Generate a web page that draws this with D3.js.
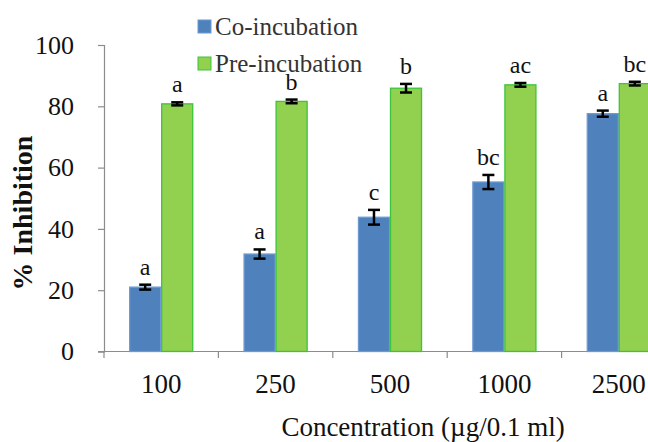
<!DOCTYPE html>
<html>
<head>
<meta charset="utf-8">
<script src="https://cdn.jsdelivr.net/npm/d3@7"></script>
<style>
html,body{margin:0;padding:0;background:#fff;overflow:hidden;}
svg{display:block;}
svg text{font-family:"Liberation Serif","Times New Roman","DejaVu Serif",serif !important;}
</style>
</head>
<body>
<svg id="chart" width="648" height="442"></svg>
<script>
const categories = ["100", "250", "500", "1000", "2500"];
const seriesNames = ["Co-incubation", "Pre-incubation"];
const coValues = [21.0, 31.8, 43.8, 55.3, 77.6];
const coErrors = [0.8, 1.5, 2.4, 2.3, 1.0];
const coLetters = ["a", "a", "c", "bc", "a"];
const preValues = [80.8, 81.6, 85.9, 87.0, 87.4];
const preErrors = [0.5, 0.6, 1.4, 0.6, 0.6];
const preLetters = ["a", "b", "b", "ac", "bc"];
const yTicks = [0, 20, 40, 60, 80, 100];
const yTitle = "% Inhibition";
const xTitle = "Concentration (\u00b5g/0.1 ml)";

const colors = {"Co-incubation": "#4F81BD", "Pre-incubation": "#92D050"};
const strokes = {"Co-incubation": "#6d9ad0", "Pre-incubation": "#3cc43c"};
const FONT = '"Liberation Serif","Times New Roman",serif';

const svg = d3.select("#chart");
const x = d3.scaleBand().domain(categories).range([104, 676]).padding(0);
const bw = x.bandwidth();
const xs = d3.scaleBand().domain(seriesNames).range([bw * 0.22, bw * 0.78]).padding(0);
const y = d3.scaleLinear().domain([0, 100]).range([351.5, 45]);

const data = [];
categories.forEach((c, i) => {
  data.push({cat: c, s: seriesNames[0], v: coValues[i], e: coErrors[i], l: coLetters[i]});
  data.push({cat: c, s: seriesNames[1], v: preValues[i], e: preErrors[i], l: preLetters[i]});
});

// axes
const yAxis = d3.axisLeft(y).tickValues(yTicks).tickSize(6).tickPadding(24);
const gy = svg.append("g").attr("transform", "translate(104,0)").call(yAxis)
  .attr("font-family", FONT);
gy.select(".domain").attr("stroke", "#8c8c8c").attr("stroke-width", 1.2);
gy.selectAll(".tick line").attr("stroke", "#8c8c8c").attr("stroke-width", 1.2);
gy.selectAll(".tick text").attr("font-size", 26).attr("fill", "#111")
  .style("font-family", FONT);

const xAxis = d3.axisBottom(x).tickSize(0).tickPadding(22);
const gx = svg.append("g").attr("transform", "translate(0,351.5)").call(xAxis)
  .attr("font-family", FONT);
gx.select(".domain").attr("stroke", "#8c8c8c").attr("stroke-width", 1.2)
  .attr("d", "M98,0H700");
gx.selectAll(".tick text").attr("font-size", 27).attr("fill", "#111")
  .style("font-family", FONT).attr("dy", "0.71em");
// boundary ticks
svg.append("g").selectAll("line").data(categories.concat(["end"])).join("line")
  .attr("x1", (d, i) => x.range()[0] + i * bw).attr("x2", (d, i) => x.range()[0] + i * bw)
  .attr("y1", 351.5).attr("y2", 358)
  .attr("stroke", "#8c8c8c").attr("stroke-width", 1.2);

// bars
svg.append("g").selectAll("rect").data(data).join("rect")
  .attr("x", d => x(d.cat) + xs(d.s) + 0.5)
  .attr("width", xs.bandwidth() - 1)
  .attr("y", d => y(d.v))
  .attr("height", d => y(0) - y(d.v))
  .attr("fill", d => colors[d.s])
  .attr("stroke", d => strokes[d.s])
  .attr("stroke-width", 1.3);

// error bars
const eg = svg.append("g").attr("stroke", "#000").attr("stroke-width", 2.5);
data.forEach(d => {
  const cx = x(d.cat) + xs(d.s) + xs.bandwidth() / 2;
  eg.append("line").attr("x1", cx).attr("x2", cx).attr("y1", y(d.v + d.e)).attr("y2", y(d.v - d.e));
  eg.append("line").attr("x1", cx - 6).attr("x2", cx + 6).attr("y1", y(d.v + d.e)).attr("y2", y(d.v + d.e));
  eg.append("line").attr("x1", cx - 6).attr("x2", cx + 6).attr("y1", y(d.v - d.e)).attr("y2", y(d.v - d.e));
});

// letters
svg.append("g").selectAll("text").data(data).join("text")
  .attr("x", d => x(d.cat) + xs(d.s) + xs.bandwidth() / 2)
  .attr("y", d => y(d.v + d.e) - 10)
  .attr("text-anchor", "middle")
  .attr("font-size", 24)
  .style("font-family", FONT)
  .attr("fill", "#111")
  .text(d => d.l);

// legend
const lg = svg.append("g");
seriesNames.forEach((s, i) => {
  const yy = 27 + i * 37;
  lg.append("rect").attr("x", 198).attr("y", yy - 7).attr("width", 13).attr("height", 13)
    .attr("fill", colors[s]).attr("stroke", strokes[s]).attr("stroke-width", 1);
  lg.append("text").attr("x", 215).attr("y", yy).attr("dy", "0.32em")
    .attr("font-size", 25).style("font-family", FONT).attr("fill", "#333").text(s);
});

// titles
svg.append("text").attr("transform", "translate(32,213) rotate(-90)")
  .attr("text-anchor", "middle").attr("font-size", 28).attr("font-weight", "bold")
  .style("font-family", FONT).attr("fill", "#111").text(yTitle);
svg.append("text").attr("x", 423).attr("y", 436).attr("text-anchor", "middle")
  .attr("font-size", 27).style("font-family", FONT).attr("fill", "#111").text(xTitle);
</script>
</body>
</html>
